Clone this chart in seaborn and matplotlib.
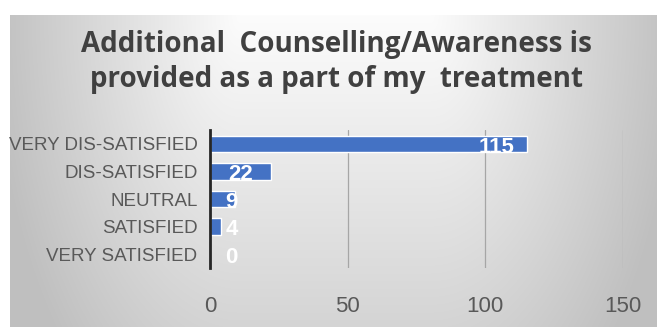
import numpy as np
import pandas as pd
import matplotlib
matplotlib.use("Agg")
import matplotlib.pyplot as plt
import seaborn as sns

# Survey responses
categories = ["VERY DIS-SATISFIED", "DIS-SATISFIED", "NEUTRAL", "SATISFIED", "VERY SATISFIED"]
counts = [115, 22, 9, 4, 0]
x_ticks = [0, 50, 100, 150]
title = "Additional  Counselling/Awareness is\nprovided as a part of my  treatment"

df = pd.DataFrame({"response": categories, "count": counts})

sns.set_theme(style="white")
plt.rcParams["font.family"] = ["Liberation Sans", "DejaVu Sans"]

W, H = 657, 327
fig = plt.figure(figsize=(W / 100, H / 100), dpi=100, facecolor="white")

# Grey backdrop: bright in the upper middle, darker toward the sides and bottom
bg = fig.add_axes([10 / W, 0, 1 - 10 / W, (H - 15) / H])
bw, bh = W - 10, H - 15
xx, yy = np.meshgrid(np.arange(bw), np.arange(bh))
dx = np.clip(np.abs(xx - 325) - 95, 0, None) / 225
dy = yy / 430
d = np.clip(np.sqrt(dx ** 2 + dy ** 2), 0, 1.1)
shade = (252 - 55 * d) / 255
bg.imshow(np.dstack([shade] * 3), aspect="auto", interpolation="bilinear")
bg.set_axis_off()

ax = fig.add_axes([210 / W, 1 - 268 / H, 413 / W, 138 / H])
ax.patch.set_alpha(0)
sns.barplot(data=df, x="count", y="response", orient="h", color="#4472C4",
            width=0.6, saturation=1, ax=ax, zorder=3)

ax.set_xlim(0, 150)
ax.set_ylim(4.5, -0.5)
ax.set_xticks(x_ticks)
ax.set_xlabel("")
ax.set_ylabel("")
ax.grid(axis="x", color="#a6a6a6", linewidth=0.9, zorder=0)
ax.grid(axis="y", visible=False)
for s in ["top", "right", "bottom"]:
    ax.spines[s].set_visible(False)
ax.spines["left"].set_color("#262626")
ax.spines["left"].set_linewidth(2)
ax.spines["left"].set_zorder(4)
ax.tick_params(axis="x", length=0, pad=20, labelsize=16, labelcolor="#595959")
ax.tick_params(axis="y", length=0, pad=9, labelsize=13.5, labelcolor="#595959")

# Value labels near the inner end of each bar
for i, v in enumerate(counts):
    ax.text(max(v - 11, 7.8), i + 0.12, str(v), color="white", fontsize=16,
            fontweight="bold", ha="center", va="center", zorder=5)

fig.text(336 / W, 1 - 62 / H, title, ha="center", va="center", fontsize=20,
         fontweight="bold", color="#404040", family=["Open Sans", "DejaVu Sans"],
         linespacing=1.3)

fig.savefig("out.png", dpi=100, facecolor="white")
